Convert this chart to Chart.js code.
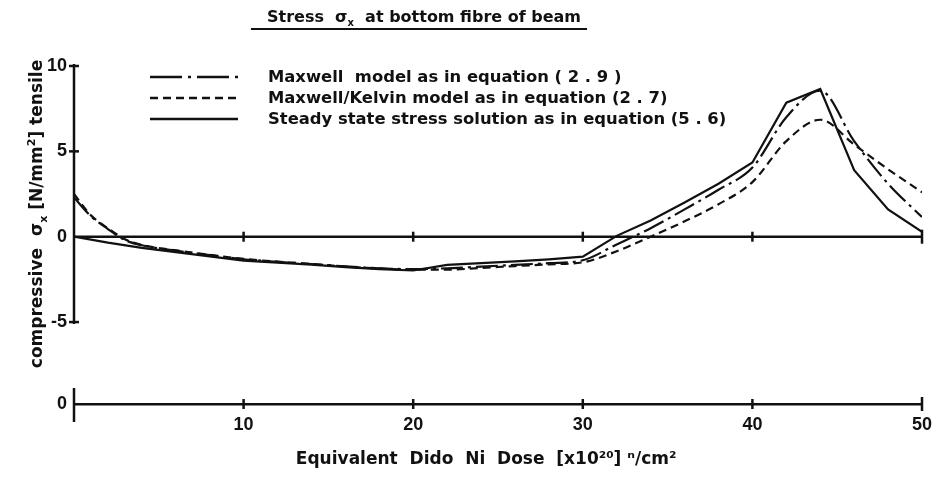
<!DOCTYPE html>
<html>
<head>
<meta charset="utf-8">
<title>Stress at bottom fibre of beam</title>
<script src="https://cdn.jsdelivr.net/npm/chart.js@4.4.1/dist/chart.umd.min.js"></script>
<style>
  html, body { margin: 0; padding: 0; background: #fff; }
  #wrap { width: 945px; height: 485px; }
</style>
</head>
<body>
<div id="wrap"><canvas id="stressChart" width="945" height="485"></canvas></div>
<script>
(function () {

// -------------------------------------------------------------------------------------------------------
// data

var doseSteady   = [0, 2, 4, 6, 8, 10, 12, 14, 16, 18, 20, 22, 24, 26, 28, 30, 32, 34, 36, 38, 40, 42, 44, 46, 48, 50];
var stressSteady = [0, -0.35, -0.65, -0.9, -1.15, -1.4, -1.52, -1.64, -1.78, -1.9, -1.98, -1.65, -1.55, -1.45, -1.33, -1.17,
                    0.05, 0.95, 2.0, 3.1, 4.35, 7.85, 8.65, 3.9, 1.6, 0.28];

var doseModels     = [0, 1, 2, 3, 4, 6, 8, 10, 12, 14, 16, 18, 20, 22, 24, 26, 28, 30, 32, 34, 36, 38, 40, 42, 44, 46, 48, 50];
var stressMaxwell  = [2.3, 1.2, 0.45, -0.2, -0.5, -0.82, -1.08, -1.32, -1.47, -1.6, -1.74, -1.85, -1.9, -1.85, -1.75, -1.65,
                      -1.55, -1.38, -0.45, 0.5, 1.6, 2.75, 4.05, 7.0, 8.55, 5.6, 3.1, 1.15];
var stressKelvin   = [2.5, 1.25, 0.5, -0.15, -0.48, -0.8, -1.06, -1.3, -1.46, -1.6, -1.75, -1.86, -1.93, -1.93, -1.83, -1.72,
                      -1.62, -1.5, -0.85, 0.0, 0.9, 1.9, 3.2, 5.6, 6.85, 5.4, 3.95, 2.6];

var seriesNames = [
    'Maxwell  model as in equation ( 2 . 9 )',
    'Maxwell/Kelvin model as in equation (2 . 7)',
    'Steady state stress solution as in equation (5 . 6)'
];

var xTicks = [10, 20, 30, 40, 50];
var yTicks = [-5, 0, 5, 10];
var yMin = -9.8, yMax = 10;

// -------------------------------------------------------------------------------------------------------

var FONT = 'DejaVu Sans';
var NUMFONT = '"Liberation Sans Narrow", "Liberation Sans", Lato, sans-serif';
var INK = '#111';

function pts(xs, ys) {
    return xs.map(function (x, i) { return { x: x, y: ys[i] }; });
}

// draws text made of pieces, some of them sub/superscript; returns width
function richText(ctx, parts, x, y, size, measureOnly) {
    var cx = x;
    parts.forEach(function (p) {
        var s = p[1] ? Math.round(size * 0.62) : size;
        var dy = p[1] === 'sub' ? size * 0.28 : (p[1] === 'sup' ? -size * 0.42 : 0);
        ctx.font = 'bold ' + s + 'px "' + FONT + '"';
        if (!measureOnly) ctx.fillText(p[0], cx, y + dy);
        cx += ctx.measureText(p[0]).width;
    });
    return cx - x;
}

function seg(ctx, x1, y1, x2, y2) {
    ctx.beginPath();
    ctx.moveTo(x1, y1);
    ctx.lineTo(x2, y2);
    ctx.stroke();
}

var decor = {
    id: 'decor',
    beforeDatasetsDraw: function (chart) {
        var ctx = chart.ctx, xs = chart.scales.x, ys = chart.scales.y;
        var x0 = xs.getPixelForValue(0), xEnd = xs.getPixelForValue(50);
        var yZero = ys.getPixelForValue(0), yBot = chart.chartArea.bottom;

        ctx.save();
        ctx.strokeStyle = INK;
        ctx.lineWidth = 2.5;

        // stress axis only runs from -5 to 10
        seg(ctx, x0, ys.getPixelForValue(10) - 2, x0, ys.getPixelForValue(-5) + 2);
        yTicks.forEach(function (v) {
            if (v === 0) return;
            var py = ys.getPixelForValue(v);
            seg(ctx, x0 - 5, py, x0 + 5, py);
        });

        // zero stress line with dose ticks
        seg(ctx, x0, yZero, xEnd, yZero);
        // stub of the dose axis origin
        seg(ctx, x0, yBot - 16, x0, yBot + 18);

        xTicks.forEach(function (v) {
            var px = xs.getPixelForValue(v);
            var h = v === 50 ? 7 : 5;
            seg(ctx, px, yZero - h, px, yZero + h);
            seg(ctx, px, yBot - h, px, yBot + h);
        });
        ctx.restore();
    },
    afterDraw: function (chart) {
        var ctx = chart.ctx;
        ctx.save();
        ctx.fillStyle = INK;
        ctx.strokeStyle = INK;
        ctx.textBaseline = 'alphabetic';
        ctx.textAlign = 'left';

        // heading, underlined
        var head = [['Stress  σ'], ['x', 'sub'], ['  at bottom fibre of beam']];
        var hw = richText(ctx, head, 0, 0, 16, true);
        var hx = 424 - hw / 2;
        richText(ctx, head, hx, 22, 16);
        ctx.lineWidth = 2;
        seg(ctx, hx - 16, 29, hx + hw + 6, 29);

        // stress title, rotated
        var lab = [['compressive  σ'], ['x', 'sub'], [' [N/mm'], ['2', 'sup'], ['] tensile']];
        ctx.save();
        ctx.translate(42, 214);
        ctx.rotate(-Math.PI / 2);
        var lw = richText(ctx, lab, 0, 0, 17, true);
        richText(ctx, lab, -lw / 2, 0, 17);
        ctx.restore();

        // legend drawn from the datasets' own styles
        chart.data.datasets.forEach(function (ds, i) {
            var y = 77 + i * 21;
            ctx.save();
            ctx.lineWidth = 2.5;
            ctx.setLineDash(ds.legendDash || ds.borderDash || []);
            seg(ctx, 150, y, 238, y);
            ctx.restore();
            ctx.font = 'bold 16.4px "' + FONT + '"';
            ctx.textBaseline = 'middle';
            ctx.fillText(ds.label, 268, y + 1);
        });
        ctx.restore();
    }
};

// -------------------------------------------------------------------------------------------------------

window.stress_chart = function (canvasId) {
    try {
        var canvas = document.getElementById(canvasId);
        if (!canvas) return;
        var ctx = canvas.getContext('2d');

        return new Chart(ctx, {
            type: 'line',
            data: {
                datasets: [{
                    label: seriesNames[0],
                    data: pts(doseModels, stressMaxwell),
                    borderColor: INK,
                    borderWidth: 2.2,
                    borderDash: [22, 5, 3, 5],
                    legendDash: [32, 6, 3, 6],
                    cubicInterpolationMode: 'monotone',
                    pointRadius: 0
                }, {
                    label: seriesNames[1],
                    data: pts(doseModels, stressKelvin),
                    borderColor: INK,
                    borderWidth: 2.2,
                    borderDash: [8, 5],
                    legendDash: [8, 5],
                    cubicInterpolationMode: 'monotone',
                    pointRadius: 0
                }, {
                    label: seriesNames[2],
                    data: pts(doseSteady, stressSteady),
                    borderColor: INK,
                    borderWidth: 2.2,
                    tension: 0,
                    pointRadius: 0
                }]
            },
            options: {
                responsive: false,
                animation: false,
                devicePixelRatio: 1,
                layout: { padding: { top: 66, right: 23, left: 0, bottom: 0 } },
                plugins: {
                    legend: { display: false },
                    tooltip: { enabled: false },
                    title: { display: false }
                },
                scales: {
                    x: {
                        type: 'linear',
                        min: 0,
                        max: 50,
                        afterBuildTicks: function (scale) {
                            scale.ticks = xTicks.map(function (v) { return { value: v }; });
                        },
                        afterFit: function (scale) { scale.height = 81; },
                        grid: { display: false, drawTicks: false },
                        border: { display: true, color: INK, width: 2.5 },
                        ticks: {
                            color: INK,
                            padding: 10,
                            maxRotation: 0,
                            font: { family: NUMFONT, size: 18, weight: 'bold' }
                        },
                        title: {
                            display: true,
                            text: 'Equivalent  Dido  Ni  Dose  [x10²⁰] ⁿ/cm²    ',
                            color: INK,
                            padding: { top: 0, bottom: 15 },
                            font: { family: FONT, size: 17, weight: 'bold' }
                        }
                    },
                    y: {
                        type: 'linear',
                        min: yMin,
                        max: yMax,
                        afterBuildTicks: function (scale) {
                            scale.ticks = [yMin].concat(yTicks).map(function (v) { return { value: v }; });
                        },
                        afterFit: function (scale) { scale.width = 74; },
                        grid: { display: false, drawTicks: false },
                        border: { display: false },
                        ticks: {
                            color: INK,
                            padding: 7,
                            font: { family: NUMFONT, size: 18, weight: 'bold' },
                            callback: function (v) { return v === yMin ? '0' : String(v); }
                        }
                    }
                }
            },
            plugins: [decor]
        });
    } catch (e) { console.log(e); }
};

// -------------------------------------------------------------------------------------------------------

stress_chart('stressChart');

})();
</script>
</body>
</html>
